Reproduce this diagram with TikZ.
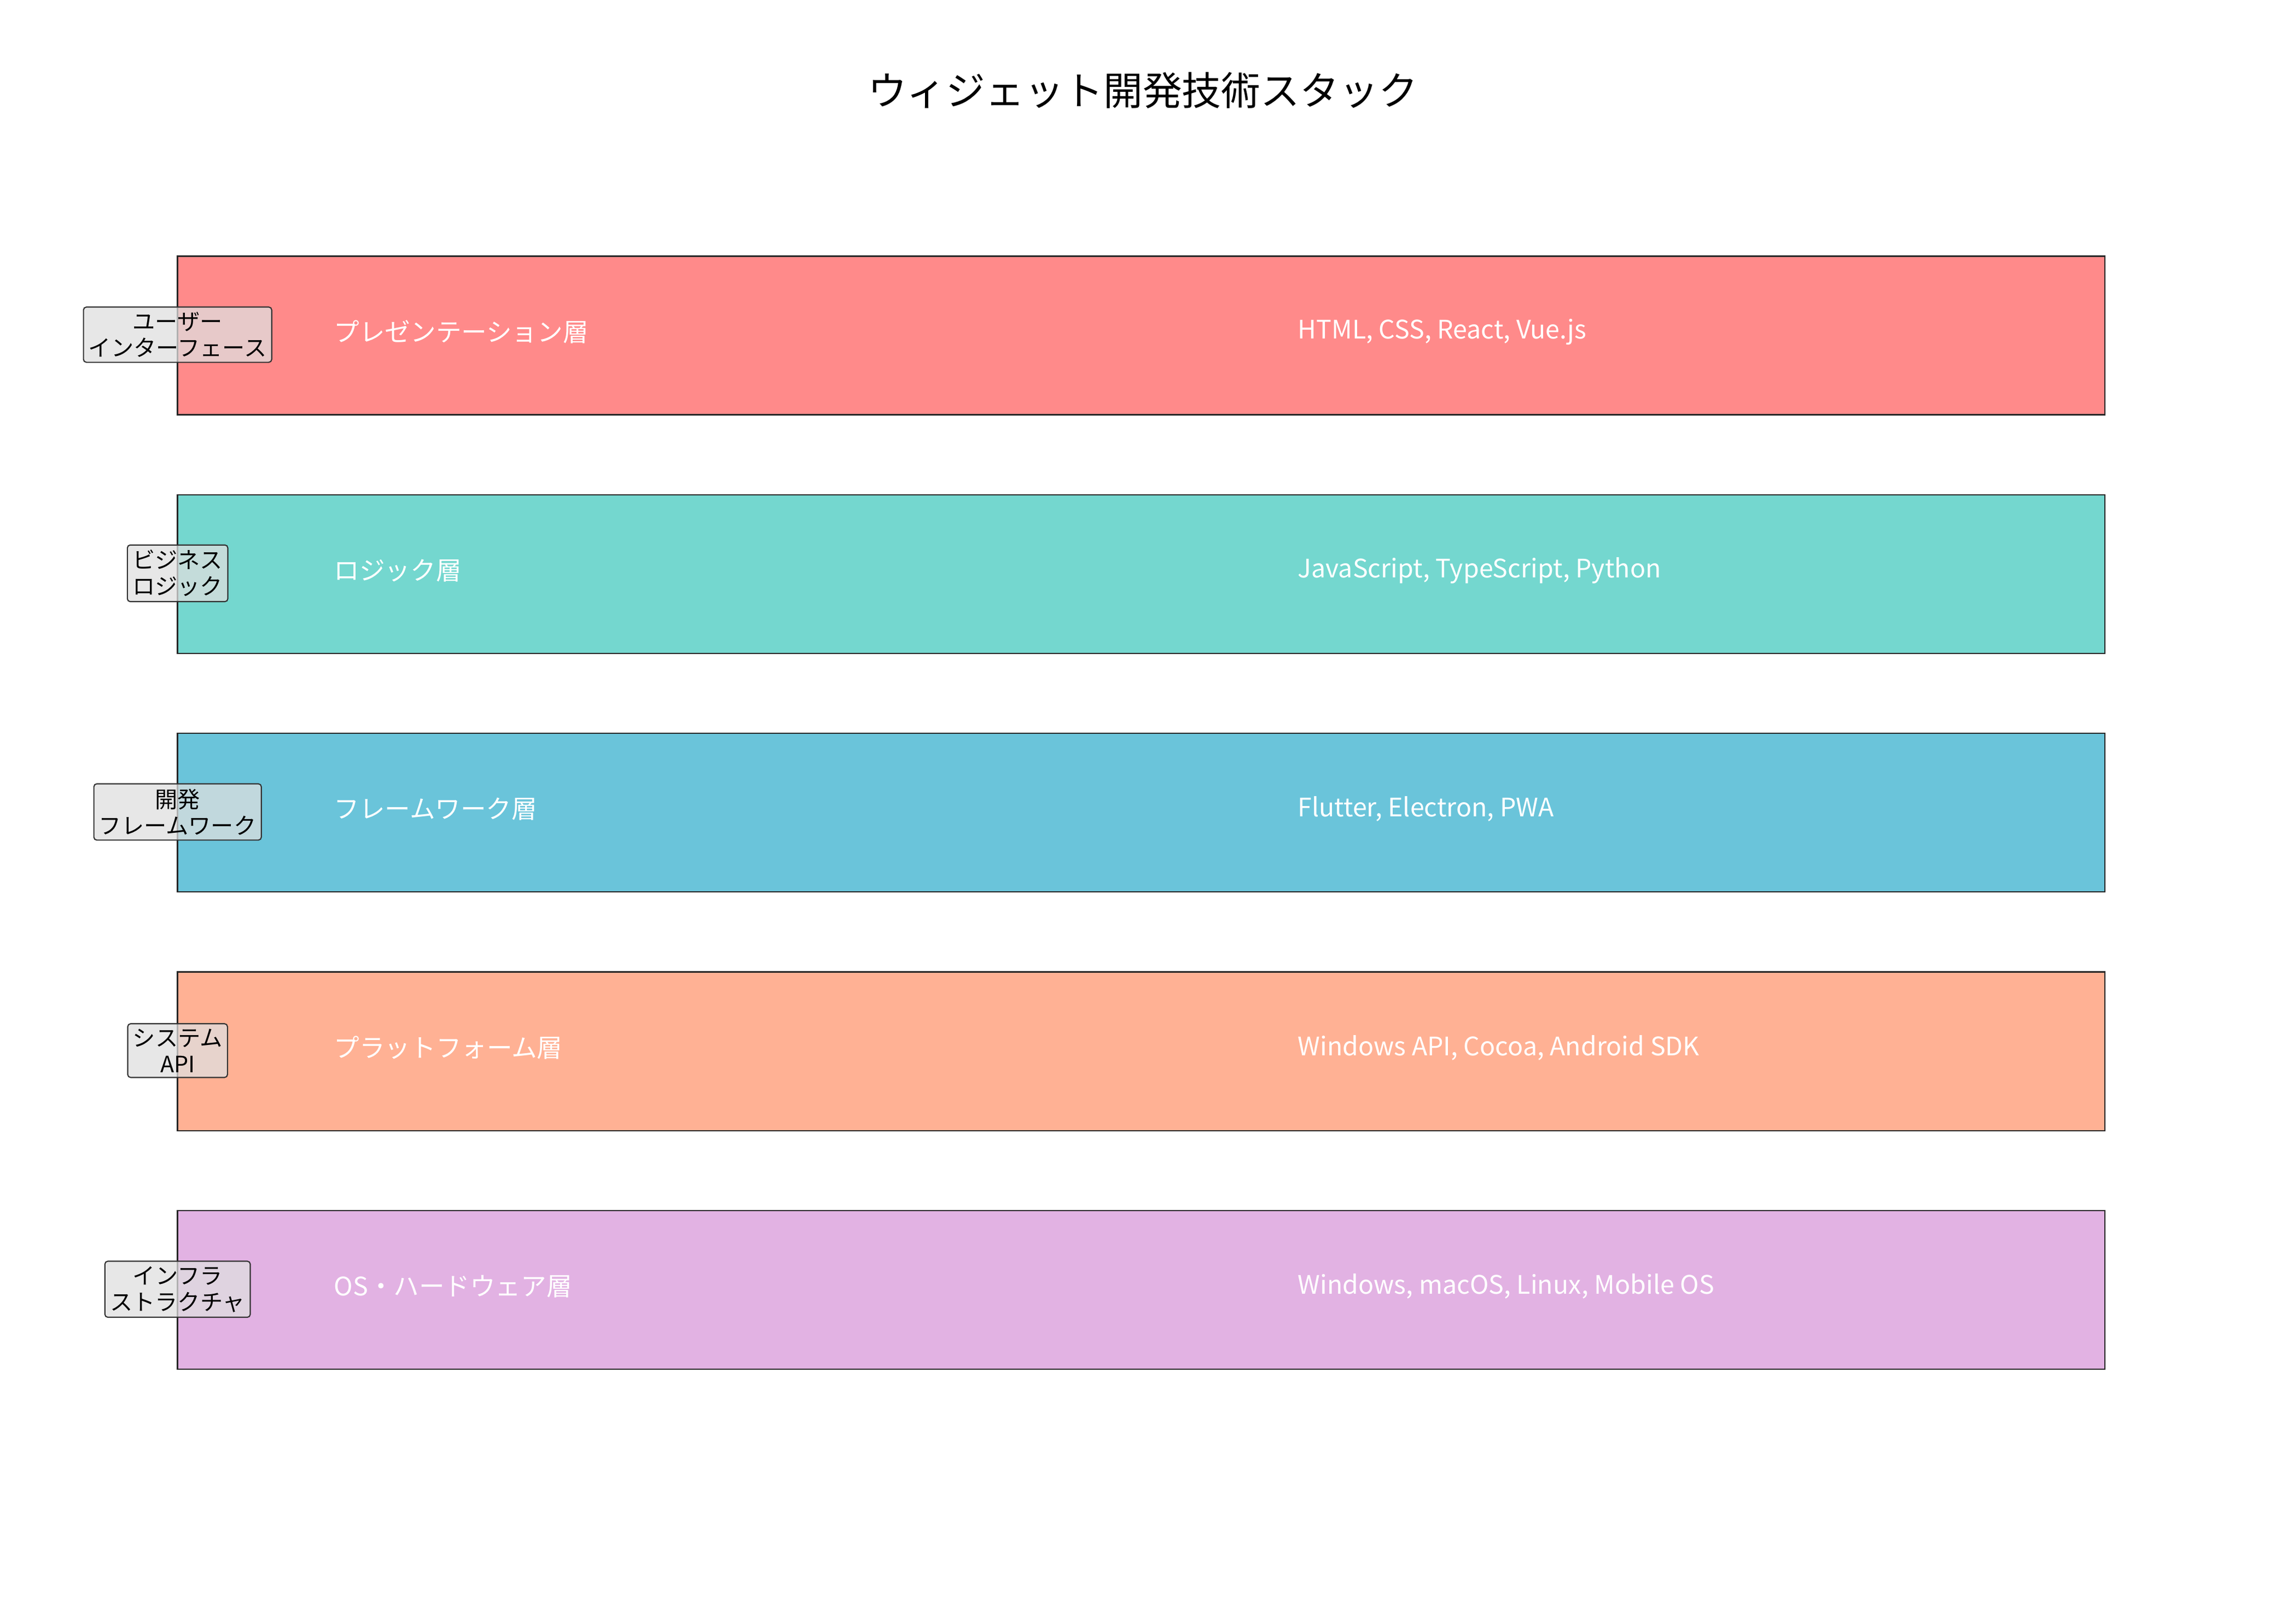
\documentclass[tikz,border=0pt]{standalone}
\usepackage{fontspec}
\setmainfont{Noto Sans CJK JP}
\begin{document}
\begin{tikzpicture}[x=1pt,y=-1pt,
  layer/.style={draw=black!85,line width=0.9pt},
  lt/.style={anchor=west,text=white,font=\fontsize{17.5}{20}\selectfont},
  tag/.style={draw=black!80,fill=gray!25,fill opacity=0.75,text opacity=1,rounded corners=2pt,align=center,font=\fontsize{15.5}{18}\selectfont,inner sep=3.5pt,line width=0.8pt}]
\useasboundingbox (0,0) rectangle (1567,1116);
\node (title) at (785,62) {\fontsize{27}{30}\selectfont ウィジェット開発技術スタック};
\definecolor{c1}{HTML}{FF8A8A}\definecolor{c2}{HTML}{74D7CF}\definecolor{c3}{HTML}{6AC4DA}\definecolor{c4}{HTML}{FFB194}\definecolor{c5}{HTML}{E2B2E3}
\foreach \i/\c/\a/\b/\t in {0/c1/プレゼンテーション層/{HTML, CSS, React, Vue.js}/{ユーザー\\インターフェース},
 1/c2/ロジック層/{JavaScript, TypeScript, Python}/{ビジネス\\ロジック},
 2/c3/フレームワーク層/{Flutter, Electron, PWA}/{開発\\フレームワーク},
 3/c4/プラットフォーム層/{Windows API, Cocoa, Android SDK}/{システム\\API},
 4/c5/OS・ハードウェア層/{Windows, macOS, Linux, Mobile OS}/{インフラ\\ストラクチャ}}{
  \pgfmathsetmacro\yy{176+164*\i}
  \draw[layer,fill=\c] (122,\yy) rectangle (1446,\yy+109);
  \node[lt] (l\i) at (226,\yy+52) {\a};
  \node[lt] (r\i) at (888,\yy+52) {\b};
  \node[tag] (t\i) at (122,\yy+54) {\t};
}
\end{tikzpicture}
\end{document}
